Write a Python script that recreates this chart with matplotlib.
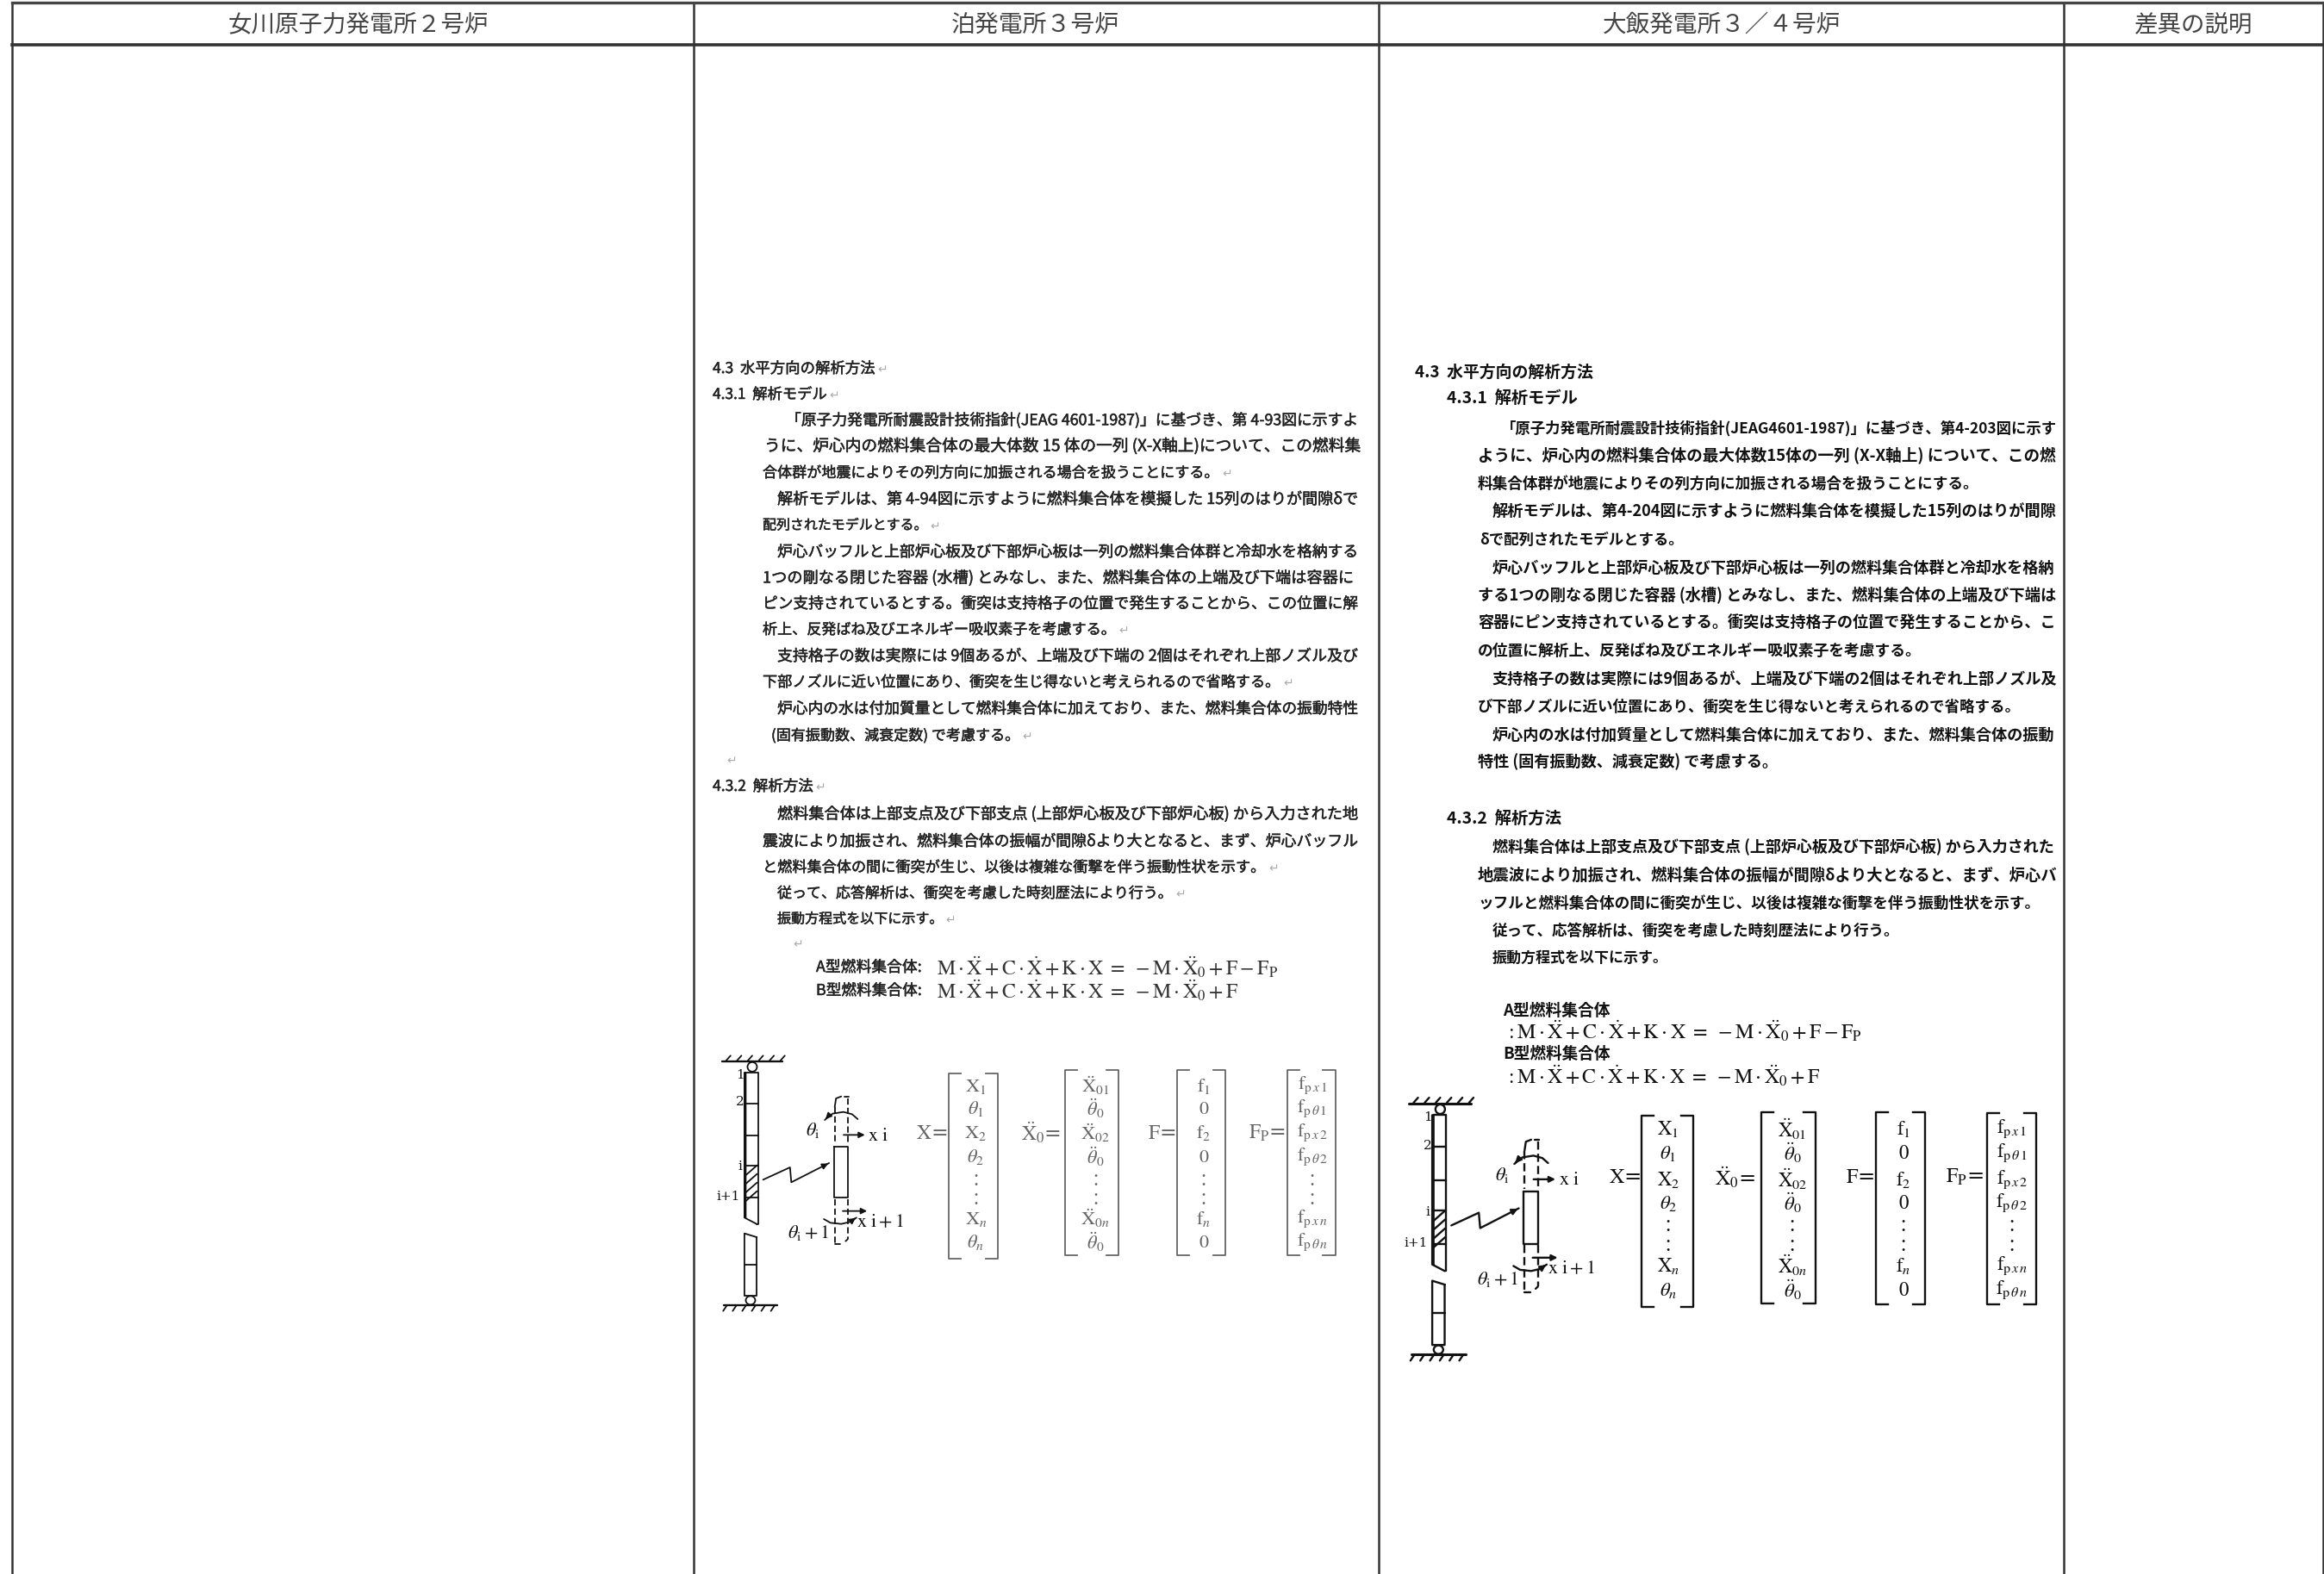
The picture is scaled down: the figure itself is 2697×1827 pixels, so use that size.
import numpy as np
import matplotlib
matplotlib.use('Agg')
import matplotlib.pyplot as plt
import matplotlib.patheffects as pe
from matplotlib.patches import Ellipse

plt.rcParams['font.family'] = ['Noto Sans CJK JP', 'DejaVu Sans']
plt.rcParams['mathtext.fontset'] = 'stix'

headers = ['女川原子力発電所２号炉', '泊発電所３号炉', '大飯発電所３／４号炉', '差異の説明']
header_x = [416, 1202, 1998, 2546]
header_w = [303, 196, 277, 138]
col_x = [14, 805, 1600, 2395, 2696]

# tomari column: text, left, right, y
tomari_text = [
    '4.3  水平方向の解析方法↵',
    '4.3.1  解析モデル↵',
    '「原子力発電所耐震設計技術指針(JEAG 4601-1987)」に基づき、第 4-93図に示すよ',
    'うに、炉心内の燃料集合体の最大体数 15 体の一列 (X-X軸上)について、この燃料集',
    '合体群が地震によりその列方向に加振される場合を扱うことにする。↵',
    '解析モデルは、第 4-94図に示すように燃料集合体を模擬した 15列のはりが間隙δで',
    '配列されたモデルとする。↵',
    '炉心バッフルと上部炉心板及び下部炉心板は一列の燃料集合体群と冷却水を格納する',
    '1つの剛なる閉じた容器 (水槽) とみなし、また、燃料集合体の上端及び下端は容器に',
    'ピン支持されているとする。衝突は支持格子の位置で発生することから、この位置に解',
    '析上、反発ばね及びエネルギー吸収素子を考慮する。↵',
    '支持格子の数は実際には 9個あるが、上端及び下端の 2個はそれぞれ上部ノズル及び',
    '下部ノズルに近い位置にあり、衝突を生じ得ないと考えられるので省略する。↵',
    '炉心内の水は付加質量として燃料集合体に加えており、また、燃料集合体の振動特性',
    '(固有振動数、減衰定数) で考慮する。↵',
    '4.3.2  解析方法↵',
    '燃料集合体は上部支点及び下部支点 (上部炉心板及び下部炉心板) から入力された地',
    '震波により加振され、燃料集合体の振幅が間隙δより大となると、まず、炉心バッフル',
    'と燃料集合体の間に衝突が生じ、以後は複雑な衝撃を伴う振動性状を示す。↵',
    '従って、応答解析は、衝突を考慮した時刻歴法により行う。↵',
    '振動方程式を以下に示す。↵',
    'A型燃料集合体:',
    'B型燃料集合体:',
]
tomari_x0 = [827, 827, 912, 887, 885, 902, 885, 902, 885, 885, 885, 902, 885, 902, 895,
             827, 902, 885, 885, 902, 902, 947, 947]
tomari_x1 = [1030, 974, 1578, 1581, 1430, 1578, 1091, 1578, 1573, 1578, 1310, 1578, 1501, 1578, 1198,
             958, 1578, 1578, 1484, 1376, 1109, 1070, 1070]
tomari_y = [428, 458, 488, 518, 549, 580, 610, 641, 671, 701, 731, 762, 792, 823, 854,
            913, 945, 977, 1007, 1037, 1067, 1123, 1150]

ohi_text = [
    '4.3  水平方向の解析方法',
    '4.3.1  解析モデル',
    '「原子力発電所耐震設計技術指針(JEAG4601-1987)」に基づき、第4-203図に示す',
    'ように、炉心内の燃料集合体の最大体数15体の一列 (X-X軸上) について、この燃',
    '料集合体群が地震によりその列方向に加振される場合を扱うことにする。',
    '解析モデルは、第4-204図に示すように燃料集合体を模擬した15列のはりが間隙',
    'δで配列されたモデルとする。',
    '炉心バッフルと上部炉心板及び下部炉心板は一列の燃料集合体群と冷却水を格納',
    'する1つの剛なる閉じた容器 (水槽) とみなし、また、燃料集合体の上端及び下端は',
    '容器にピン支持されているとする。衝突は支持格子の位置で発生することから、こ',
    'の位置に解析上、反発ばね及びエネルギー吸収素子を考慮する。',
    '支持格子の数は実際には9個あるが、上端及び下端の2個はそれぞれ上部ノズル及',
    'び下部ノズルに近い位置にあり、衝突を生じ得ないと考えられるので省略する。',
    '炉心内の水は付加質量として燃料集合体に加えており、また、燃料集合体の振動',
    '特性 (固有振動数、減衰定数) で考慮する。',
    '4.3.2  解析方法',
    '燃料集合体は上部支点及び下部支点 (上部炉心板及び下部炉心板) から入力された',
    '地震波により加振され、燃料集合体の振幅が間隙δより大となると、まず、炉心バ',
    'ッフルと燃料集合体の間に衝突が生じ、以後は複雑な衝撃を伴う振動性状を示す。',
    '従って、応答解析は、衝突を考慮した時刻歴法により行う。',
    '振動方程式を以下に示す。',
    'A型燃料集合体',
    'B型燃料集合体',
]
ohi_x0 = [1642, 1679, 1742, 1715, 1715, 1732, 1717, 1732, 1715, 1715, 1715, 1732, 1715, 1732, 1715,
          1679, 1732, 1715, 1715, 1732, 1732, 1744, 1744]
ohi_x1 = [1849, 1831, 2388, 2388, 2300, 2388, 1955, 2388, 2388, 2388, 2232, 2388, 2347, 2388, 2065,
          1812, 2388, 2388, 2370, 2207, 1937, 1869, 1869]
ohi_y = [432, 463, 497, 529, 562, 594, 627, 659, 691, 723, 756, 788, 821, 853, 884,
         951, 983, 1016, 1049, 1081, 1112, 1173, 1223]

eq_lhs = r'\mathrm{M}\cdot\ddot{\mathrm{X}}+\mathrm{C}\cdot\dot{\mathrm{X}}+\mathrm{K}\cdot\mathrm{X}\ =\ -\mathrm{M}\cdot\ddot{\mathrm{X}}_{0}+\mathrm{F}'
eq_a = '$' + eq_lhs + r'-\mathrm{F}_{\mathrm{P}}$'
eq_b = '$' + eq_lhs + '$'
eq_a_colon = '$:$' + eq_a
eq_b_colon = '$:$' + eq_b

# matrix contents
m_x = [r'\mathrm{X}_{1}', r'\theta_{1}', r'\mathrm{X}_{2}', r'\theta_{2}', ':', ':', r'\mathrm{X}_{n}', r'\theta_{n}']
m_x0 = [r'\ddot{\mathrm{X}}_{01}', r'\ddot{\theta}_{0}', r'\ddot{\mathrm{X}}_{02}', r'\ddot{\theta}_{0}', ':', ':',
        r'\ddot{\mathrm{X}}_{0n}', r'\ddot{\theta}_{0}']
m_f = [r'\mathrm{f}_{1}', '0', r'\mathrm{f}_{2}', '0', ':', ':', r'\mathrm{f}_{n}', '0']
m_fp = [r'\mathrm{f}_{\mathrm{p}\,x\,1}', r'\mathrm{f}_{\mathrm{p}\,\theta\,1}', r'\mathrm{f}_{\mathrm{p}\,x\,2}',
        r'\mathrm{f}_{\mathrm{p}\,\theta\,2}', ':', ':', r'\mathrm{f}_{\mathrm{p}\,x\,n}', r'\mathrm{f}_{\mathrm{p}\,\theta\,n}']
m_labels = [r'$\mathrm{X}$=', r'$\ddot{\mathrm{X}}_{0}$=', r'$\mathrm{F}$=', r'$\mathrm{F}_{\mathrm{P}}$=']
m_entries = [m_x, m_x0, m_f, m_fp]

tomari_rows = [180, 260, 345, 428, 508, 573, 643, 725]
ohi_rows = [152, 236, 328, 410, 488, 555, 628, 712]

fig = plt.figure(figsize=(26.97, 18.27), dpi=100)
ax = fig.add_axes([0, 0, 1, 1])
ax.set_xlim(0, 2697)
ax.set_ylim(1827, 0)
ax.axis('off')
renderer = fig.canvas.get_renderer()


def fit_text(x0, x1, y, s, color='#222222', weight='normal', size=14, stroke=0):
    # shrink or grow the font until the line spans x0..x1
    t = ax.text(x0, y, s, ha='left', va='center', fontsize=size, color=color, weight=weight)
    w = t.get_window_extent(renderer).width
    t.set_fontsize(size * (x1 - x0) / w)
    if stroke:
        t.set_path_effects([pe.withStroke(linewidth=stroke, foreground=color)])
    return t


def draw_lines(texts, x0s, x1s, ys, color, weight, stroke=0):
    for s, x0, x1, y in zip(texts, x0s, x1s, ys):
        mark = s.endswith('↵')
        s = s.rstrip('↵')
        if mark:
            fit_text(x0, x1 - 14, y, s, color, weight, stroke=stroke)
            ax.text(x1 - 12, y + 1, '↵', fontsize=10, color='#aaaaaa', ha='left', va='center',
                    family='DejaVu Sans')
        else:
            fit_text(x0, x1, y, s, color, weight, stroke=stroke)


def draw_model(px, lw, color='#111111', tsize=16):
    # px maps reference diagram coordinates to pixels
    def line(xs, ys, **kw):
        pts = [px(a, b) for a, b in zip(xs, ys)]
        ax.plot([p[0] for p in pts], [p[1] for p in pts], color=color, lw=kw.pop('lw', lw),
                solid_capstyle='round', **kw)

    line([55, 195], [95, 95], lw=lw * 1.3)
    for x in range(65, 195, 25):
        line([x, x + 10], [93, 76])
    line([60, 183], [945, 945], lw=lw * 1.3)
    for x in range(58, 170, 22):
        line([x, x + 8], [965, 947])
    cx, cy = px(125, 115)
    ax.add_patch(Ellipse((cx, cy), 11, 11, fill=False, ec=color, lw=lw))
    cx, cy = px(121, 928)
    ax.add_patch(Ellipse((cx, cy), 11, 10, fill=False, ec=color, lw=lw))

    # upper beam
    line([110, 110, 107, 107, 135], [640, 135, 135, 640, 662])
    line([110, 138, 138, 135], [135, 135, 662, 662])
    for y in [242, 355, 458, 570]:
        line([108, 138], [y, y])
    for y0 in [475, 505, 535, 565]:
        line([108, 136], [y0 + 20, y0 - 17])
    # lower beam
    line([135, 107, 107, 135, 135], [708, 695, 912, 912, 708])
    line([107, 135], [805, 805])

    # zigzag arrow
    line([150, 212, 215, 302], [508, 465, 517, 450])
    ax.annotate('', xy=px(305, 448), xytext=px(285, 463), arrowprops=dict(arrowstyle='-|>', color=color, lw=lw))

    # element and dashed extensions
    line([313, 345, 345, 313, 313], [393, 393, 570, 570, 393])
    line([315, 315], [255, 385], ls=(0, (4, 2)))
    line([345, 345], [225, 385], ls=(0, (4, 2)))
    line([315, 318, 330], [255, 225, 218])
    line([338, 348], [218, 218])
    line([315, 315], [575, 730], ls=(0, (4, 2)))
    line([345, 345], [575, 715], ls=(0, (4, 2)))
    line([315, 328], [733, 733])
    line([345, 340], [715, 722])

    # rotation arcs
    line([368, 355, 335, 310, 292], [297, 280, 272, 278, 300])
    ax.annotate('', xy=px(290, 303), xytext=px(300, 287),
                arrowprops=dict(arrowstyle='-|>', color=color, lw=lw))
    line([290, 305, 330, 350, 365], [645, 658, 662, 655, 640])
    ax.annotate('', xy=px(368, 636), xytext=px(355, 650),
                arrowprops=dict(arrowstyle='-|>', color=color, lw=lw))

    # force arrows
    ax.annotate('', xy=px(390, 352), xytext=px(330, 352),
                arrowprops=dict(arrowstyle='-|>', color=color, lw=lw))
    ax.annotate('', xy=px(395, 617), xytext=px(328, 617),
                arrowprops=dict(arrowstyle='-|>', color=color, lw=lw))

    labels = [(98, 143, '1'), (97, 238, '2'), (97, 462, 'i'), (70, 568, 'i+1')]
    for x, y, s in labels:
        xx, yy = px(x, y)
        ax.text(xx, yy, s, fontsize=tsize - 5, color=color, ha='center', va='center',
                family='DejaVu Serif')
    for x, y, s in [(265, 335, r'$\theta_{\mathrm{i}}$'), (255, 690, r'$\theta_{\mathrm{i}}+1$'),
                    (415, 352, r'$\mathrm{x\ i}$'), (420, 652, r'$\mathrm{x\ i+1}$')]:
        xx, yy = px(x, y)
        ax.text(xx, yy, s, fontsize=tsize, color=color, ha='center', va='center')


def draw_matrix(px, l, r, top, bottom, rows, cx, entries, label, label_x, label_y, color, lw, size):
    stub = 28
    for x, d in [(l, 1), (r, -1)]:
        xs = [x + d * stub, x, x, x + d * stub]
        ys = [top, top, bottom, bottom]
        pts = [px(a, b) for a, b in zip(xs, ys)]
        ax.plot([p[0] for p in pts], [p[1] for p in pts], color=color, lw=lw)
    for y, s in zip(rows, entries):
        xx, yy = px(cx, y)
        ax.text(xx, yy, '$' + s + '$' if s != ':' else ':', fontsize=size, color=color, ha='center', va='center')
    xx, yy = px(label_x, label_y)
    ax.text(xx, yy, label, fontsize=size + 1, color=color, ha='right', va='center',
            family=['DejaVu Serif'])


# table grid
for x in col_x:
    ax.plot([x, x], [3, 1827], color='#333333', lw=1.8, solid_capstyle='butt')
ax.plot([col_x[0], col_x[-1]], [3, 3], color='#444444', lw=2.4)
ax.plot([col_x[0], col_x[-1]], [52, 52], color='#333333', lw=2.6)
for s, x, w in zip(headers, header_x, header_w):
    fit_text(x - w / 2, x + w / 2, 29, s, color='#444444')

draw_lines(tomari_text, tomari_x0, tomari_x1, tomari_y, '#222222', 'normal', stroke=0.35)
draw_lines(ohi_text, ohi_x0, ohi_x1, ohi_y, '#111111', 'bold')
ax.text(843, 883, '↵', fontsize=10, color='#aaaaaa', va='center', family='DejaVu Sans')
ax.text(920, 1096, '↵', fontsize=10, color='#aaaaaa', va='center', family='DejaVu Sans')

fit_text(1087, 1484, 1123, eq_a, '#333333')
fit_text(1087, 1438, 1150, eq_b, '#333333')
fit_text(1747, 2162, 1197, eq_a_colon, '#111111')
fit_text(1747, 2114, 1249, eq_b_colon, '#111111')


def tomari_px(x, y):
    return 810 + x / 1.985, 1200 + y / 3


def ohi_px(x, y):
    return 1620 + x / 2, 1260 + y / 3


def ohi_model_px(x, y):
    return 1620 + (1.03 * x - 26) / 2, 1260 + (1.03 * y - 36) / 3


draw_model(tomari_px, 1.3)
draw_model(ohi_model_px, 1.7)

# tomari matrices, lighter print
tom_geo = [(578, 690, 137, 782, 640, 575), (845, 968, 125, 770, 915, 835), (1103, 1215, 125, 772, 1165, 1100),
           (1357, 1468, 125, 770, 1415, 1353)]
for (l, r, t, b, cx, lx), ent, lab in zip(tom_geo, m_entries, m_labels):
    draw_matrix(tomari_px, l, r, t, b, tomari_rows, cx, ent, lab, lx, 345, '#666666', 1.3, 16)

ohi_geo = [(570, 690, 105, 772, 632, 568), (848, 975, 93, 760, 920, 835), (1115, 1228, 93, 762, 1178, 1110),
           (1372, 1487, 95, 762, 1430, 1365)]
for (l, r, t, b, cx, lx), ent, lab in zip(ohi_geo, m_entries, m_labels):
    draw_matrix(ohi_px, l, r, t, b, ohi_rows, cx, ent, lab, lx, 320, '#111111', 1.7, 16.5)

fig.savefig('out.png', dpi=100)
